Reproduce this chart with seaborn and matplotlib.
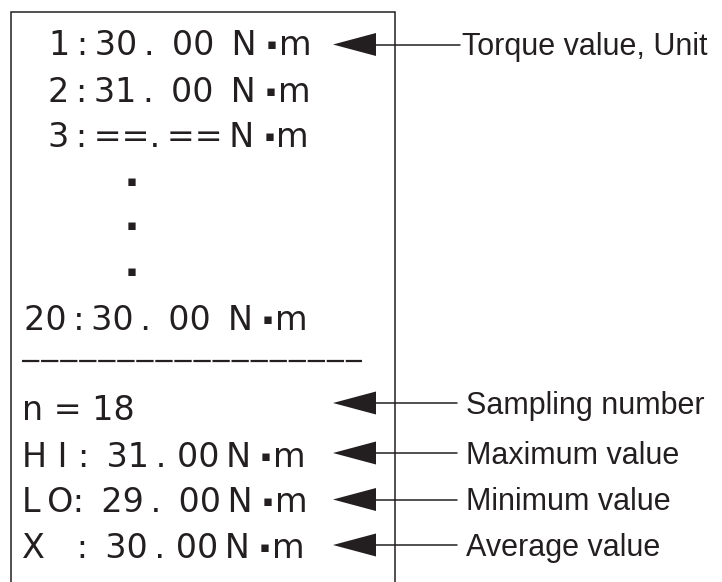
import matplotlib
matplotlib.use("Agg")
import matplotlib.pyplot as plt
import seaborn as sns
from matplotlib.patches import Polygon

sns.set_theme(style="white")
plt.rcParams['font.family'] = ['DejaVu Sans']

TS = "\u2009"  # thin space used to mimic the printer's wide character spacing

# Printout content (the ▪ is the unit dot in "N▪m")
top_lines = [f"1{TS}:{TS}30{TS}.{TS} 00{TS} N▪m",
             f"2{TS}:{TS}31{TS}.{TS} 00{TS} N▪m",
             f"3{TS}:{TS}==.{TS}=={TS}N▪m"]
last_line = f"20{TS}:{TS}30{TS}.{TS} 00{TS} N▪m"
stat_lines = ["n = 18",
              f"H I : {TS}31{TS}. 00{TS}N▪m",
              f"L{TS}O: {TS}29{TS}. {TS}00{TS}N▪m",
              f"X   : {TS}30{TS}. 00{TS}N▪m"]
labels = ["Torque value, Unit", "Sampling number", "Maximum value",
          "Minimum value", "Average value"]

INK = "#231f20"
W, H = 722, 582
fig = plt.figure(figsize=(W / 100, H / 100), dpi=100)
ax = fig.add_axes([0, 0, 1, 1])
ax.set_xlim(0, W)
ax.set_ylim(H, 0)
ax.axis("off")
renderer = fig.canvas.get_renderer()

FS = 24     # printer text size
SQ = 10.5   # unit dot size


def print_line(x, base, s):
    if "▪" not in s:
        ax.text(x, base, s, fontsize=FS, va="baseline", ha="left", color=INK)
        return
    pre, post = s.split("▪")
    t1 = ax.text(x, base, pre, fontsize=FS, va="baseline", ha="left", color=INK)
    bb = t1.get_window_extent(renderer)
    t2 = ax.text(bb.x1 + 10, base - 6, "▪", fontsize=SQ, va="baseline", ha="left",
                 color=INK)
    bb2 = t2.get_window_extent(renderer)
    ax.text(bb2.x1 + 2, base, post, fontsize=FS, va="baseline", ha="left", color=INK)


# box (open at bottom)
ax.plot([11, 11, 395, 395], [H + 5, 11.5, 11.5, H + 5], color=INK, lw=1.1,
        solid_joinstyle="miter")

for s, x, b in zip(top_lines, [49, 48, 48], [55, 102, 147]):
    print_line(x, b, s)
for yc in [180, 225, 270]:
    ax.text(131.5, yc + 5.5, "▪", fontsize=SQ, va="baseline", ha="center", color=INK)
print_line(24, 330, last_line)
ax.plot([22.3, 362], [360.5, 360.5], color=INK, lw=1.6, dashes=(7.8, 0.77),
        solid_capstyle="butt", dash_capstyle="butt")
for s, b in zip(stat_lines, [420, 467, 512, 558]):
    print_line(22, b, s)

# arrows + labels
ys_arrow = [44.5, 403, 453, 499.5, 545]
line_end = [460, 457, 457, 457, 457]
text_x = [462, 466, 466, 466, 466]
for lab, y, le, tx in zip(labels, ys_arrow, line_end, text_x):
    ax.add_patch(Polygon([[333, y], [376, y - 11.5], [376, y + 11.5]], closed=True,
                         facecolor=INK, edgecolor="none"))
    ax.plot([376, le], [y, y], color=INK, lw=1.1)
    ax.text(tx, y + 11, lab, fontsize=22, va="baseline", ha="left", color=INK,
            family="Liberation Sans")

fig.savefig("out.png", dpi=100)
